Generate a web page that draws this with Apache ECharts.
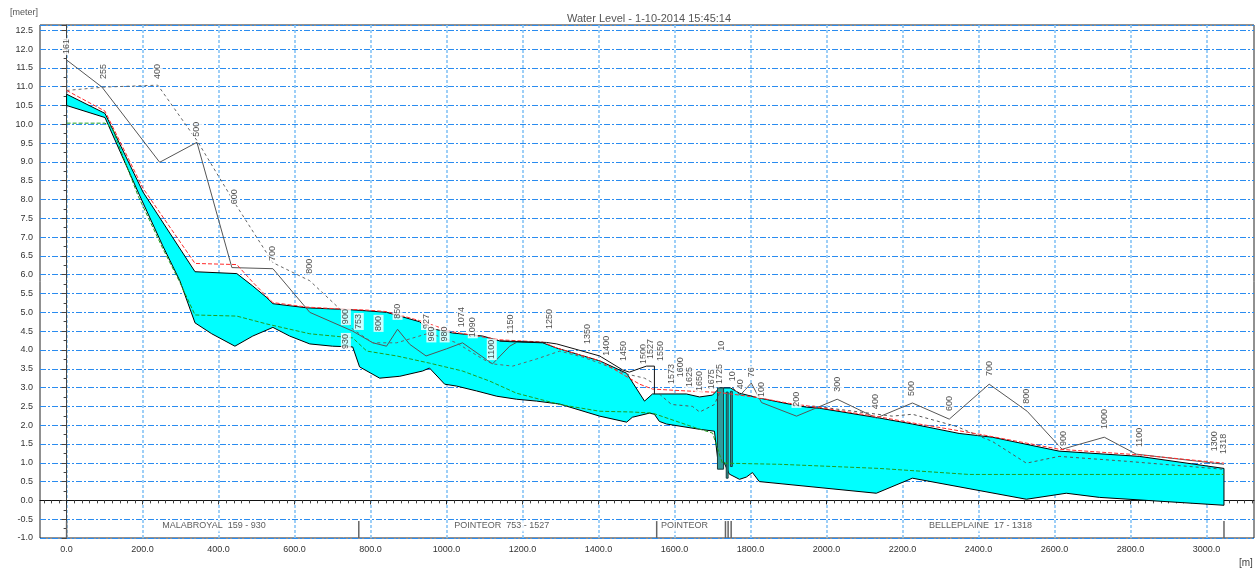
<!DOCTYPE html>
<html>
<head>
<meta charset="utf-8">
<title>Water Level</title>
<script src="https://cdn.jsdelivr.net/npm/echarts@6/dist/echarts.min.js"></script>
<style>
  html, body { margin: 0; padding: 0; background: #fff; }
  #chart { width: 1256px; height: 570px; }
</style>
</head>
<body>
<div id="chart"></div>
<script>
// tick labels on the chainage axis [m]
const xTicks = [0, 200, 400, 600, 800, 1000, 1200, 1400, 1600, 1800, 2000, 2200, 2400, 2600, 2800, 3000]

// bed level (bottom of the water body) [chainage m, level m]
const bedLevel = [[0, 10.5], [101, 10.18], [188, 8.2], [253, 6.77], [298, 5.84], [338, 4.72], [382, 4.43], [443, 4.1],
  [490, 4.37], [543, 4.6], [587, 4.37], [640, 4.16], [700, 4.1], [753, 4.08], [771, 3.55], [824, 3.25], [877, 3.3],
  [937, 3.44], [955, 3.52], [995, 3.09], [1026, 3.04], [1079, 2.91], [1132, 2.77], [1184, 2.69], [1237, 2.64],
  [1298, 2.56], [1403, 2.24], [1474, 2.08], [1489, 2.21], [1534, 2.32], [1547, 2.29], [1560, 2.1], [1579, 2.03],
  [1666, 1.89], [1705, 1.84], [1713, 1.15], [1726, 1.1], [1744, 0.7], [1771, 0.56], [1789, 0.62], [1805, 0.74],
  [1823, 0.5], [2131, 0.19], [2226, 0.59], [2526, 0.03], [2631, 0.19], [2718, 0.08], [3046, -0.13]]

// water level (top of the cyan body)
const waterLevel = [[0, 10.8], [101, 10.29], [201, 8.2], [338, 6.08], [448, 6.03], [490, 5.7], [527, 5.39], [543, 5.23],
  [632, 5.12], [745, 5.07], [790, 5.04], [842, 5.0], [877, 4.9], [929, 4.75], [946, 4.6], [1016, 4.45], [1095, 4.37],
  [1140, 4.24], [1166, 4.22], [1253, 4.19], [1290, 4.05], [1403, 3.71], [1474, 3.38], [1521, 2.64], [1542, 2.83],
  [1631, 2.83], [1666, 2.75], [1700, 2.8], [1718, 2.99], [1747, 2.99], [1771, 2.85], [1823, 2.72], [1902, 2.56],
  [1947, 2.48], [1981, 2.45], [2139, 2.19], [2226, 2.03], [2349, 1.78], [2436, 1.68], [2612, 1.31], [2823, 1.17],
  [3046, 0.85]]

// black crest above the water between 1250 and 1550
const crestLevel = [[1140, 4.24], [1263, 4.2], [1290, 4.16], [1403, 3.84], [1463, 3.47], [1481, 3.41], [1526, 3.57],
  [1547, 3.57], [1547, 2.83]]

// maximum water level (red dashed)
const maxLevel = [[0, 10.9], [101, 10.35], [201, 8.3], [338, 6.3], [448, 6.27], [490, 5.8], [527, 5.42], [543, 5.26],
  [632, 5.14], [719, 5.09], [790, 5.06], [842, 5.02], [929, 4.78], [1016, 4.48], [1140, 4.27], [1253, 4.21],
  [1290, 4.05], [1403, 3.71], [1508, 3.09], [1542, 2.96], [1631, 2.91], [1718, 2.87], [1815, 2.74], [1902, 2.58],
  [1981, 2.47], [2139, 2.22], [2226, 2.06], [2402, 1.76], [2612, 1.36], [2823, 1.21], [3046, 0.99]]

// green dashed level
const greenLevel = [[0, 10.03], [101, 10.03], [120, 9.9], [188, 8.1], [253, 6.7], [298, 5.8], [338, 4.93], [448, 4.9],
  [527, 4.69], [640, 4.43], [753, 4.32], [790, 3.97], [869, 3.84], [955, 3.65], [1042, 3.44], [1114, 3.17],
  [1184, 2.85], [1298, 2.55], [1403, 2.37], [1489, 2.35], [1542, 2.32], [1658, 1.92], [1700, 1.79], [1726, 0.99],
  [1876, 0.96], [2139, 0.85], [2375, 0.69], [3046, 0.69]]

// bank lines (solid / dashed gray)
const bankSolidUp = [[0, 10.8], [0, 11.71], [93, 10.99], [245, 8.99], [343, 9.52], [435, 6.19], [543, 6.16], [640, 5.0],
  [753, 4.5], [806, 4.19], [842, 4.1], [871, 4.55], [903, 4.15], [946, 3.84], [1000, 4.03], [1042, 4.19], [1121, 3.63],
  [1166, 4.1], [1184, 4.2]]
const bankSolidDown = [[1752, 3.0], [1773, 2.8], [1802, 3.12], [1829, 2.6], [1921, 2.24], [2028, 2.69], [2131, 2.19],
  [2226, 2.59], [2323, 2.16], [2428, 3.09], [2528, 2.37], [2620, 1.36], [2731, 1.68], [2815, 1.23], [3046, 0.96]]
const bankDashedUp = [[0, 10.9], [101, 10.99], [240, 11.04], [343, 9.57], [443, 7.9], [543, 6.32], [640, 5.84],
  [719, 5.09], [753, 4.55], [806, 4.19], [869, 4.19], [955, 4.45], [1026, 4.19], [1095, 3.76], [1121, 3.63],
  [1174, 3.57], [1237, 3.76], [1298, 3.97], [1358, 3.81], [1403, 3.65], [1474, 3.36], [1521, 3.25], [1547, 3.1]]
const bankDashedMid = [[1560, 2.83], [1592, 2.55], [1647, 2.5], [1666, 2.35], [1705, 2.55], [1718, 2.85]]
const bankDashedDown = [[1963, 2.51], [2173, 2.24], [2226, 2.29], [2341, 1.97], [2402, 1.71], [2436, 1.57],
  [2526, 0.99], [2612, 1.17], [2789, 1.04], [3041, 0.83]]

// cross-section chainage labels [chainage, level at text foot, text]
const sectionLabels = [[1, 11.84, '161'], [96, 11.18, '255'], [240, 11.18, '400'], [343, 9.64, '500'],
  [443, 7.85, '600'], [543, 6.34, '700'], [640, 6.0, '800'], [735, 4.66, '900'], [735, 4.0, '930'],
  [769, 4.53, '753'], [821, 4.48, '800'], [871, 4.8, '850'], [946, 4.53, '927'], [960, 4.2, '960'],
  [995, 4.2, '980'], [1040, 4.58, '1074'], [1069, 4.31, '1090'], [1119, 3.73, '1100'], [1168, 4.4, '1150'],
  [1271, 4.53, '1250'], [1371, 4.13, '1350'], [1421, 3.82, '1400'], [1466, 3.68, '1450'], [1518, 3.6, '1500'],
  [1536, 3.73, '1527'], [1563, 3.68, '1550'], [1592, 3.07, '1573'], [1616, 3.25, '1600'], [1639, 2.99, '1625'],
  [1666, 2.88, '1650'], [1697, 2.93, '1675'], [1718, 3.07, '1725'], [1723, 3.95, '10'], [1752, 3.14, '10'],
  [1773, 2.93, '40'], [1802, 3.25, '76'], [1829, 2.72, '100'], [1921, 2.46, '200'], [2028, 2.86, '300'],
  [2128, 2.4, '400'], [2223, 2.75, '500'], [2323, 2.35, '600'], [2428, 3.28, '700'], [2526, 2.54, '800'],
  [2623, 1.42, '900'], [2731, 1.87, '1000'], [2823, 1.39, '1100'], [3022, 1.28, '1300'], [3044, 1.21, '1318']]

// structures [from, to, top, bottom]
const structures = [[1713, 1729, 2.99, 0.83], [1736, 1741, 2.88, 0.59], [1747, 1752, 2.9, 0.9]]

// branch boundaries and names
const branchBounds = [0, 769, 1553, 1734, 1741, 1749, 3046]
const branchNames = [[388, 'MALABROYAL  159 - 930'], [1145, 'POINTEOR  753 - 1527'], [1626, 'POINTEOR'],
  [2405, 'BELLEPLAINE  17 - 1318']]

const font = 'Liberation Sans, Arial, sans-serif'
const chart = echarts.init(document.getElementById('chart'))

function line(data, color, type, z) {
  return {
    type: 'line', data, symbol: 'none', silent: true, z,
    lineStyle: { color, width: 1, type },
  }
}

chart.setOption({
  animation: false,
  title: {
    text: 'Water Level - 1-10-2014 15:45:14',
    left: 644, top: 8, textAlign: 'center',
    textStyle: { fontFamily: font, fontSize: 11, fontWeight: 'normal', color: '#555' },
  },
  // axis units
  graphic: [
    { type: 'text', left: 10, top: 8, style: { text: '[meter]', font: '9px ' + font, fill: '#555' } },
    { type: 'text', left: 1239, top: 558, style: { text: '[m]', font: '10px ' + font, fill: '#444' } },
  ],
  grid: { left: 40, right: 2, top: 25, bottom: 32, show: true, borderColor: '#222', borderWidth: 1 },
  xAxis: {
    type: 'value', min: -70, max: 3125,
    axisLine: { lineStyle: { color: '#111' } },
    axisTick: { customValues: xTicks, length: 4, lineStyle: { color: '#222' } },
    minorTick: { show: true, splitNumber: 25, length: 3, lineStyle: { color: '#444' } },
    axisLabel: {
      customValues: xTicks, formatter: v => v.toFixed(1),
      fontFamily: font, fontSize: 9, color: '#333', margin: 7,
    },
    splitLine: { show: true, lineStyle: { color: '#86c4f6', width: 1.6, type: [3, 2] } },
  },
  yAxis: {
    type: 'value', min: -1, max: 12.64, interval: 0.5,
    axisLine: { show: true, lineStyle: { color: '#444' } },
    axisTick: { show: true, length: 5, lineStyle: { color: '#444' } },
    minorTick: { show: true, splitNumber: 2, length: 3, lineStyle: { color: '#444' } },
    axisLabel: {
      formatter: v => v.toFixed(1), showMaxLabel: false,
      fontFamily: font, fontSize: 9, color: '#333', margin: 7,
    },
    splitLine: { show: true, lineStyle: { color: '#2a8cf0', width: 1, type: [6, 2, 2, 2] } },
  },
  series: [
    {
      // water body between bed and water level
      type: 'custom', z: 1, silent: true,
      data: [[0, 0]],
      renderItem: (params, api) => {
        const pts = waterLevel.map(p => api.coord(p))
          .concat(bedLevel.slice().reverse().map(p => api.coord(p)))
        return { type: 'polygon', shape: { points: pts }, style: { fill: '#00ffff', stroke: '#000', lineWidth: 1 } }
      },
    },
    {
      type: 'custom', z: 2, silent: true,
      data: structures,
      encode: { x: [0, 1], y: [2, 3] },
      renderItem: (params, api) => {
        const a = api.coord([api.value(0), api.value(2)])
        const b = api.coord([api.value(1), api.value(3)])
        return {
          type: 'rect',
          shape: { x: a[0], y: a[1], width: b[0] - a[0], height: b[1] - a[1] },
          style: { fill: '#2f9c9c', stroke: '#1b3b3b', lineWidth: 1 },
        }
      },
    },
    {
      type: 'custom', z: 2, silent: true,
      data: branchBounds.map(x => [x, -1]),
      renderItem: (params, api) => {
        const a = api.coord([api.value(0), -0.55])
        const b = api.coord([api.value(0), -1])
        return { type: 'line', shape: { x1: a[0], y1: a[1], x2: b[0], y2: b[1] }, style: { stroke: '#666', lineWidth: 1.5 } }
      },
    },
    line(greenLevel, '#1f9e1f', [4, 2], 3),
    line(bankSolidUp, '#555', 'solid', 3),
    line(bankSolidDown, '#555', 'solid', 3),
    line(bankDashedUp, '#666', [3, 3], 3),
    line(bankDashedMid, '#555', [3, 3], 3),
    line(bankDashedDown, '#555', [3, 3], 3),
    line(maxLevel, '#ff2a2a', [4, 2], 4),
    line(crestLevel, '#111', 'solid', 4),
    {
      type: 'scatter', z: 5, silent: true, symbolSize: 0,
      data: sectionLabels,
      label: {
        show: true, position: 'inside', rotate: 90, align: 'left', verticalAlign: 'middle',
        formatter: p => p.value[2],
        fontFamily: font, fontSize: 9, color: '#222',
        backgroundColor: '#fff', padding: [1, 1, 0, 1],
      },
    },
    {
      type: 'scatter', z: 5, silent: true, symbolSize: 0,
      data: branchNames.map(d => [d[0], -0.68, d[1]]),
      label: {
        show: true, position: 'inside',
        formatter: p => p.value[2],
        fontFamily: font, fontSize: 9, color: '#333',
        backgroundColor: '#fff', padding: [1, 2],
      },
    },
  ],
})
</script>
</body>
</html>
